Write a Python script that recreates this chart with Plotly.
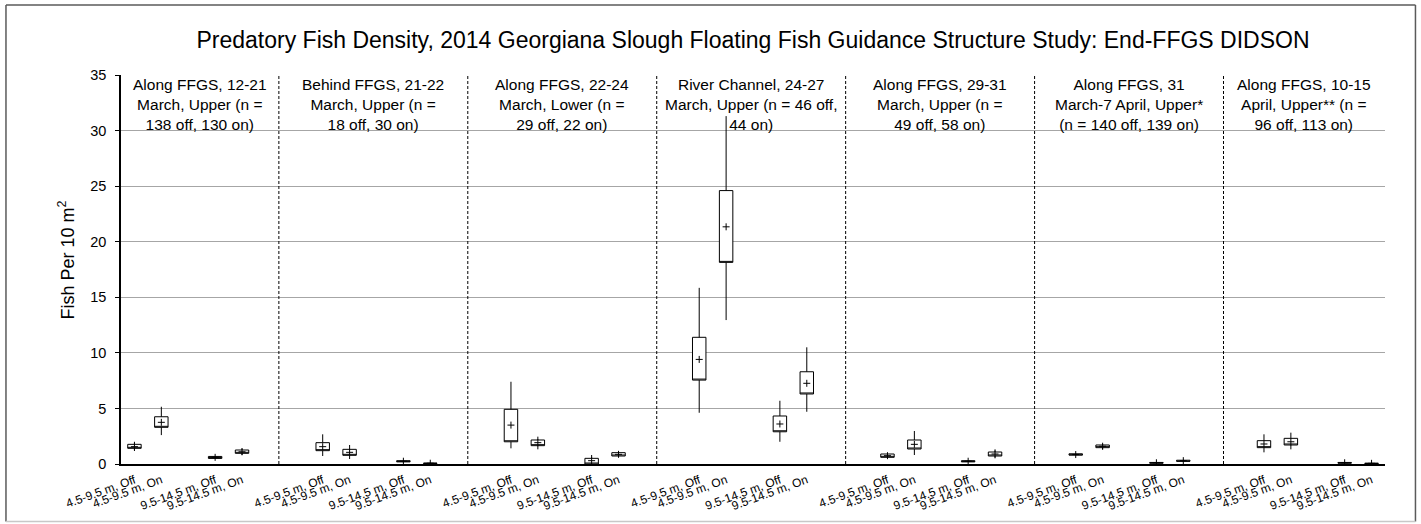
import plotly.graph_objects as go

# Study periods / locations (one panel each)
panels = [
    "Along FFGS, 12-21<br>March, Upper (n =<br>138 off, 130 on)",
    "Behind FFGS, 21-22<br>March, Upper (n =<br>18 off, 30 on)",
    "Along FFGS, 22-24<br>March, Lower (n =<br>29 off, 22 on)",
    "River Channel, 24-27<br>March, Upper (n = 46 off,<br>44 on)",
    "Along FFGS, 29-31<br>March, Upper (n =<br>49 off, 58 on)",
    "Along FFGS, 31<br>March-7 April, Upper*<br>(n = 140 off, 139 on)",
    "Along FFGS, 10-15<br>April, Upper** (n =<br>96 off, 113 on)",
]

# Range bin / FFGS state within each panel
groups = ["4.5-9.5 m, Off", "4.5-9.5 m, On", "9.5-14.5 m, Off", "9.5-14.5 m, On"]

# Box statistics, panel by panel, in the order of `groups`
lower = [1.17, 2.60, 0.45, 0.81,
         0.72, 0.45, 0.15, 0.03,
         1.41, 1.32, 0.00, 0.66,
         4.61, 12.95, 2.00, 4.70,
         0.55, 0.81, 0.18, 0.51,
         0.78, 1.32, 0.05, 0.22,
         1.05, 1.32, 0.06, 0.02]
q1 = [1.41, 3.30, 0.50, 0.96,
      1.20, 0.78, 0.20, 0.05,
      2.00, 1.65, 0.00, 0.72,
      7.55, 18.14, 2.90, 6.30,
      0.60, 1.35, 0.20, 0.72,
      0.80, 1.47, 0.08, 0.25,
      1.47, 1.71, 0.08, 0.04]
mean = [1.56, 3.75, 0.60, 1.10,
        1.56, 1.05, 0.25, 0.07,
        3.50, 1.92, 0.30, 0.87,
        9.41, 21.34, 3.60, 7.26,
        0.75, 1.77, 0.25, 0.90,
        0.85, 1.60, 0.11, 0.30,
        1.80, 2.00, 0.11, 0.06]
q3 = [1.77, 4.25, 0.68, 1.26,
      1.92, 1.32, 0.30, 0.09,
      4.92, 2.16, 0.51, 1.02,
      11.40, 24.60, 4.32, 8.30,
      0.90, 2.16, 0.30, 1.08,
      0.92, 1.71, 0.14, 0.34,
      2.10, 2.31, 0.14, 0.08]
upper = [2.00, 5.15, 0.72, 1.41,
         2.67, 1.71, 0.35, 0.12,
         7.40, 2.46, 0.81, 1.10,
         15.85, 31.30, 5.69, 10.50,
         0.95, 2.97, 0.32, 1.32,
         0.95, 1.80, 0.16, 0.37,
         2.67, 2.82, 0.16, 0.10]

FONT = "Arial, Liberation Sans, sans-serif"

# Seven slots per panel: two boxes, a gap, two boxes, then spacing
slots = [0, 1, 3, 4]
xpos = [p * 7 + s for p in range(len(panels)) for s in slots]
xlabels = [g for _ in panels for g in groups]

fig = go.Figure()

fig.add_trace(go.Box(
    x=xpos,
    q1=q1, median=q1, q3=q3,
    lowerfence=lower, upperfence=upper,
    width=0.5,
    whiskerwidth=0,
    boxpoints=False,
    fillcolor="white",
    line=dict(color="black", width=1),
    hoverinfo="skip",
    showlegend=False,
))

fig.add_trace(go.Scatter(
    x=xpos, y=mean,
    mode="markers",
    marker=dict(symbol="cross-thin", size=5, color="black",
                line=dict(color="black", width=1)),
    showlegend=False,
))

# Dashed separators between panels
dividers = [5.37 + 7.025 * k for k in range(len(panels) - 1)]
for d in dividers:
    fig.add_shape(type="line", xref="x", yref="paper", x0=d, x1=d, y0=0, y1=1,
                  line=dict(color="black", width=1, dash="3px,2px"))

# Panel headings
edges = [-0.5] + dividers + [46.5]
for i, txt in enumerate(panels):
    fig.add_annotation(x=(edges[i] + edges[i + 1]) / 2, xref="x",
                       y=1, yref="paper", yanchor="top", yshift=1,
                       text=txt, showarrow=False, align="center",
                       font=dict(family=FONT, size=15.5, color="black"))

# Y axis title
fig.add_annotation(x=-54 / 1264, xref="paper", y=0.523, yref="paper",
                   text="Fish Per 10 m<sup>2</sup>", textangle=-90,
                   showarrow=False, xanchor="center", yanchor="middle",
                   font=dict(family=FONT, size=18, color="black"))

# Outer frame
frame = [(-0.091, 1.18, 1.0241, 1.18, "#5a5a5a"),
         (-0.091, 1.18, -0.091, -0.1478, "#5a5a5a"),
         (1.0241, 1.18, 1.0241, -0.1478, "#5a5a5a"),
         (-0.091, -0.1478, 1.0241, -0.1478, "#c8c8c8")]
for x0, y0, x1, y1, c in frame:
    fig.add_shape(type="line", xref="paper", yref="paper",
                  x0=x0, y0=y0, x1=x1, y1=y1, line=dict(color=c, width=1.5))

fig.update_layout(
    width=1421, height=524,
    margin=dict(l=121, r=36, t=75, b=60),
    paper_bgcolor="white", plot_bgcolor="white",
    font=dict(family=FONT, color="black"),
    title=dict(
        text="Predatory Fish Density, 2014 Georgiana Slough Floating Fish Guidance Structure Study: End-FFGS DIDSON",
        x=0.5, xref="paper", y=1 - 40 / 524, yref="container",
        xanchor="center", yanchor="middle",
        font=dict(family=FONT, size=23, color="black"),
    ),
    xaxis=dict(
        range=[-0.5, 46.5],
        tickmode="array", tickvals=xpos, ticktext=xlabels,
        tickangle=-20, tickfont=dict(family=FONT, size=12, color="black"),
        ticks="", showgrid=False, zeroline=False,
        ticklabelstandoff=3,
        showline=True, linecolor="black", linewidth=1.5,
    ),
    yaxis=dict(
        range=[0, 35], dtick=5,
        showgrid=True, gridcolor="#a6a6a6", gridwidth=1,
        zeroline=False,
        showline=True, linecolor="black", linewidth=1.5,
        ticks="outside", ticklen=4, tickcolor="black",
        ticklabelstandoff=6,
        tickfont=dict(family=FONT, size=14.5, color="black"),
    ),
)

fig.write_html("out.html")
